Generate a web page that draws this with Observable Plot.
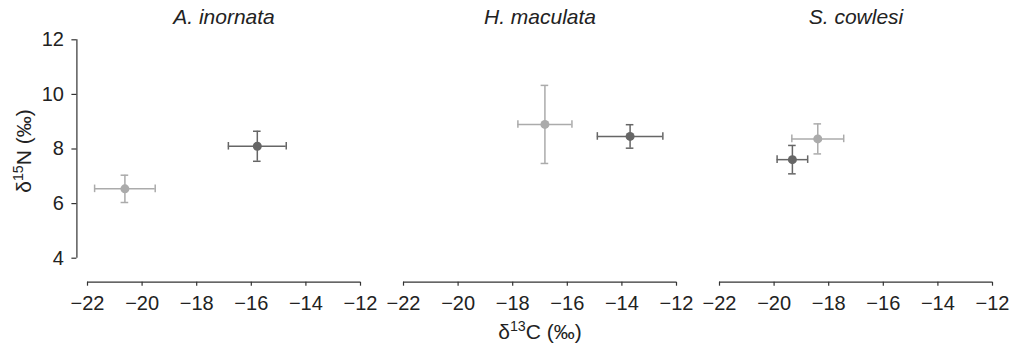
<!DOCTYPE html>
<html>
<head>
<meta charset="utf-8">
<script src="https://cdn.jsdelivr.net/npm/d3@7"></script>
<script src="https://cdn.jsdelivr.net/npm/@observablehq/plot@0.6"></script>
<style>
  html, body { margin: 0; padding: 0; background: #fff; }
  #chart svg { display: block; }
</style>
</head>
<body>
<div id="chart"></div>
<script>
// ---- data ----
const species = ["A. inornata", "H. maculata", "S. cowlesi"];
const groups = ["Group 1", "Group 2"];
const groupColors = ["#ababab", "#666666"];

const pointSpecies = ["A. inornata", "A. inornata", "H. maculata", "H. maculata", "S. cowlesi", "S. cowlesi"];
const pointGroup   = ["Group 1", "Group 2", "Group 1", "Group 2", "Group 1", "Group 2"];
const d13C         = [-20.63, -15.78, -16.82, -13.70, -18.40, -19.33];
const d13C_err     = [1.11, 1.06, 0.99, 1.20, 0.95, 0.56];
const d15N         = [6.54, 8.10, 8.90, 8.46, 8.37, 7.61];
const d15N_err     = [0.50, 0.55, 1.43, 0.43, 0.55, 0.52];

const xTicks = [-22, -20, -18, -16, -14, -12];
const yTicks = [4, 6, 8, 10, 12];
const xDomain = [-22, -12];
const yDomain = [4, 12];
const xLabel = "δ13C (‰)";
const yLabel = "δ15N (‰)";

// ---- table built from the arrays ----
const rows = pointSpecies.map((s, i) => ({
  species: s,
  group: pointGroup[i],
  x: d13C[i], xlo: d13C[i] - d13C_err[i], xhi: d13C[i] + d13C_err[i],
  y: d15N[i], ylo: d15N[i] - d15N_err[i], yhi: d15N[i] + d15N_err[i]
}));

const FONT = "'Liberation Sans', Arial, Helvetica, sans-serif";
const AX = "#333333";
const CAP = 3.8;
const SW = 1.5;
const axisOffsetX = -10.6;  // detached y axis
const axisOffsetY = 24;     // detached x axis

const chart = Plot.plot({
  width: 1013,
  height: 348,
  marginLeft: 87.3,
  marginRight: 20.7,
  marginTop: 39.3,
  marginBottom: 90.3,
  style: {fontFamily: FONT, color: "#222", background: "#fff"},
  fx: {domain: species, paddingInner: 0.137, paddingOuter: 0, axis: null},
  x: {domain: xDomain},
  y: {domain: yDomain},
  color: {domain: groups, range: groupColors},
  marks: [
    // y axis (first facet only)
    Plot.ruleX([species[0]], {fx: d => d, x: () => xDomain[0], y1: () => yDomain[0], y2: () => yDomain[1], dx: axisOffsetX, stroke: AX, strokeWidth: 1.2}),
    Plot.axisY({anchor: "left", ticks: yTicks, tickSize: 5, tickPadding: 8, dx: axisOffsetX, fontSize: 20, label: null, stroke: AX, strokeWidth: 1.2, color: "#222"}),
    // x axes (every facet)
    Plot.ruleY(species, {fx: d => d, y: () => yDomain[0], x1: () => xDomain[0], x2: () => xDomain[1], dy: axisOffsetY, stroke: AX, strokeWidth: 1.2}),
    Plot.axisX({anchor: "bottom", ticks: xTicks, tickSize: 4, tickPadding: 9.5, dy: axisOffsetY, fontSize: 20, label: null, stroke: AX, strokeWidth: 1.2, color: "#222"}),
    // facet titles
    Plot.text(species, {fx: d => d, text: d => d, frameAnchor: "top", lineAnchor: "bottom", dy: -15.5, fontSize: 21, fontStyle: "italic", fill: "#222"}),
    // axis labels
    Plot.text([xLabel], {fx: () => species[1], frameAnchor: "bottom", lineAnchor: "bottom", textAnchor: "middle", dy: 81, fontSize: 21, fill: "#222"}),
    Plot.text([yLabel], {fx: () => species[0], frameAnchor: "left", textAnchor: "middle", rotate: -90, dx: -63, dy: 2, fontSize: 21, fill: "#222"}),
    // error bars
    Plot.ruleY(rows, {fx: "species", y: "y", x1: "xlo", x2: "xhi", stroke: "group", strokeWidth: SW}),
    Plot.ruleX(rows, {fx: "species", x: "x", y1: "ylo", y2: "yhi", stroke: "group", strokeWidth: SW}),
    Plot.ruleX(rows, {fx: "species", x: "xlo", y1: "y", y2: "y", insetTop: -CAP, insetBottom: -CAP, stroke: "group", strokeWidth: SW}),
    Plot.ruleX(rows, {fx: "species", x: "xhi", y1: "y", y2: "y", insetTop: -CAP, insetBottom: -CAP, stroke: "group", strokeWidth: SW}),
    Plot.ruleY(rows, {fx: "species", y: "ylo", x1: "x", x2: "x", insetLeft: -CAP, insetRight: -CAP, stroke: "group", strokeWidth: SW}),
    Plot.ruleY(rows, {fx: "species", y: "yhi", x1: "x", x2: "x", insetLeft: -CAP, insetRight: -CAP, stroke: "group", strokeWidth: SW}),
    // means
    Plot.dot(rows, {fx: "species", x: "x", y: "y", fill: "group", r: 4.5, stroke: null})
  ]
});

// superscripts in the axis labels
d3.select(chart).selectAll("text").each(function () {
  const t = this.textContent;
  const m = /^δ(\d+)(.*)$/.exec(t);
  if (!m) return;
  const sel = d3.select(this);
  sel.text(null);
  sel.append("tspan").text("δ");
  sel.append("tspan").attr("baseline-shift", "super").attr("font-size", "0.68em").text(m[1]);
  sel.append("tspan").text(m[2]);
});

document.getElementById("chart").appendChild(chart);
</script>
</body>
</html>
